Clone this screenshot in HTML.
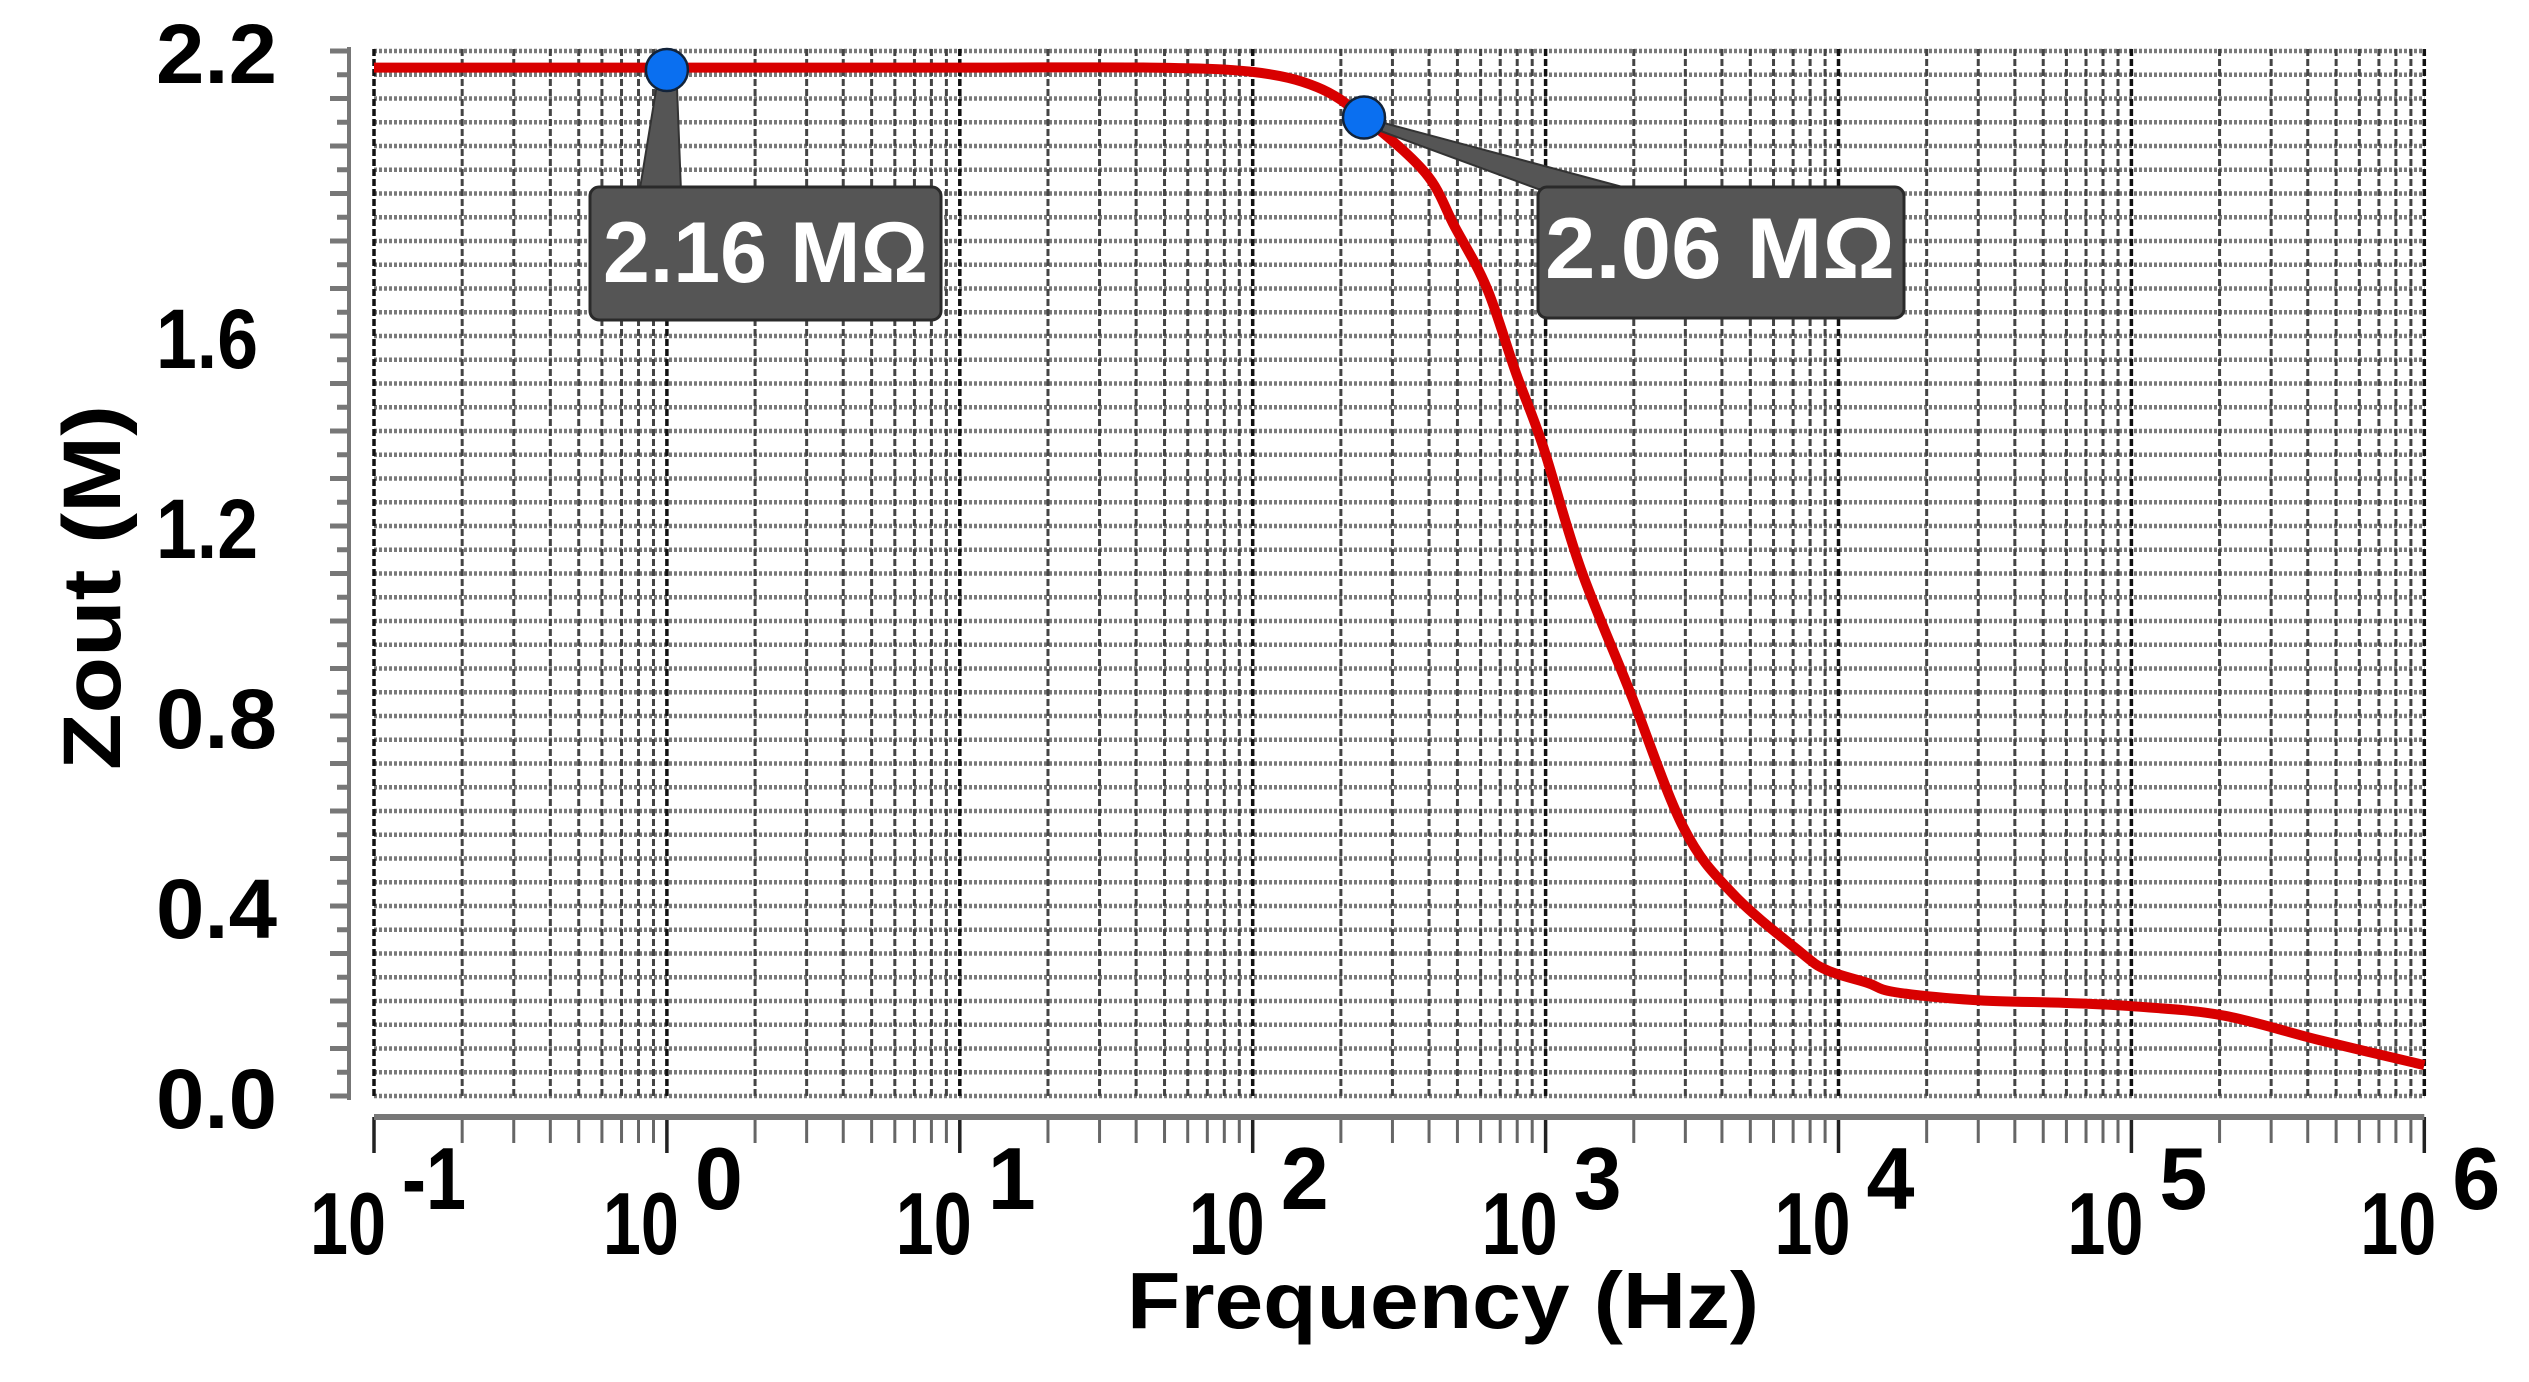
<!DOCTYPE html>
<html><head><meta charset="utf-8"><style>
html,body{margin:0;padding:0;background:#fff}
svg{display:block}
text{font-family:"Liberation Sans",sans-serif;font-weight:bold}
</style></head><body>
<svg id="chart" width="2529" height="1382" viewBox="0 0 2529 1382" xmlns="http://www.w3.org/2000/svg">
<g id="grid"></g>
<g id="axes"></g>
<g id="series"></g>
<g id="ann"></g>
<text x="1127" y="1328" font-size="80" textLength="632" lengthAdjust="spacingAndGlyphs" fill="#000">Frequency (Hz)</text>
<text transform="translate(120,770) rotate(-90)" x="0" y="0" font-size="82" textLength="365" lengthAdjust="spacingAndGlyphs" fill="#000">Zout (M)</text>
</svg>
<script>
const logFreq = [-1, 0, 1, 1.65, 2.0, 2.22, 2.38, 2.59, 2.69, 2.80, 2.90, 2.99, 3.12, 3.29, 3.47, 3.64, 3.87, 3.96, 4.10, 4.19, 4.46, 4.77, 5.0, 5.31, 5.64, 6.0];
const zout = [2.165, 2.165, 2.165, 2.165, 2.156, 2.124, 2.06, 1.943, 1.83, 1.70, 1.52, 1.37, 1.11, 0.848, 0.566, 0.425, 0.303, 0.265, 0.238, 0.219, 0.202, 0.196, 0.189, 0.17, 0.118, 0.065];
const yTicks = [0.0, 0.4, 0.8, 1.2, 1.6, 2.2];
const yTickLabels = ["0.0", "0.4", "0.8", "1.2", "1.6", "2.2"];
const xDecades = [-1, 0, 1, 2, 3, 4, 5, 6];
const xExpLabels = ["-1", "0", "1", "2", "3", "4", "5", "6"];
const markerLogF = [0, 2.38];
const markerZ = [2.16, 2.06];
const markerLabels = ["2.16 MΩ", "2.06 MΩ"];

const NS = "http://www.w3.org/2000/svg";
const X0 = 374, DEC = 292.9, Y0 = 1096, YU = 475;
function xs(l){ return X0 + (l + 1) * DEC; }
function ys(v){ return Y0 - v * YU; }
function mk(tag, attrs, parent){ const e = document.createElementNS(NS, tag); for (const k in attrs) e.setAttribute(k, attrs[k]); parent.appendChild(e); return e; }

const grid = document.getElementById('grid');
const axes = document.getElementById('axes');
const xL = xs(-1), xR = xs(6);
for (let i = 0; i <= 44; i++) {
  const v = i * 0.05, y = ys(v);
  const l = mk('line', {x1: xL, x2: xR, y1: y, y2: y, stroke: '#7a7a7a', 'stroke-width': 4.5, 'stroke-dasharray': '3 2'}, grid);
  
  
  const t = mk('line', {x1: i % 2 === 0 ? 330 : 337, x2: 349, y1: y, y2: y, stroke: '#777', 'stroke-width': 5}, axes);
  
  
}
for (let d = -1; d <= 6; d++) {
  for (let m = 1; m <= 9; m++) {
    if (d === 6 && m > 1) break;
    const x = xs(d + Math.log10(m));
    const major = m === 1;
    const g = mk('line', {x1: x, x2: x, y1: ys(2.2) - 2, y2: Y0, stroke: major ? '#111' : '#444', 'stroke-width': major ? 3.5 : 3, 'stroke-dasharray': '7 3'}, grid);
    
    
    const t = mk('line', {x1: x, x2: x, y1: 1117, y2: major ? 1153 : 1143, stroke: major ? '#222' : '#666', 'stroke-width': major ? 3.5 : 3}, axes);
    
    
  }
}
const ya = mk('line', {x1: 349, x2: 349, y1: 47, y2: 1100, stroke: '#777', 'stroke-width': 4}, axes);


const xa = mk('line', {x1: xL, x2: xR, y1: 1117, y2: 1117, stroke: '#777', 'stroke-width': 6}, axes);



yTicks.forEach((v, i) => {
  const t = mk('text', {x: 156, y: ys(v) + 32, 'font-size': 84, fill: '#000', textLength: yTickLabels[i].startsWith('1') ? 102 : 121, lengthAdjust: 'spacingAndGlyphs'}, axes);
  t.textContent = yTickLabels[i];
  
  
});
xDecades.forEach((d, i) => {
  const x = xs(d);
  const t = mk('text', {x: x - 64, y: 1254, 'font-size': 88, fill: '#000', textLength: 76, lengthAdjust: 'spacingAndGlyphs'}, axes);
  t.textContent = '10';
  
  
  const e = mk('text', {x: x + 28, y: 1209, 'font-size': 88, fill: '#000', textLength: xExpLabels[i].length > 1 ? 64 : 48, lengthAdjust: 'spacingAndGlyphs'}, axes);
  e.textContent = xExpLabels[i];
  
  
});

const series = document.getElementById('series');
const P = logFreq.map((l, i) => [xs(l), ys(zout[i])]);
let d = 'M' + P[0][0].toFixed(1) + ',' + P[0][1].toFixed(1);
for (let i = 0; i < P.length - 1; i++) {
  const p0 = P[Math.max(0, i - 1)], p1 = P[i], p2 = P[i + 1], p3 = P[Math.min(P.length - 1, i + 2)];
  const c1x = p1[0] + (p2[0] - p0[0]) / 6, c1y = p1[1] + (p2[1] - p0[1]) / 6;
  const c2x = p2[0] - (p3[0] - p1[0]) / 6, c2y = p2[1] - (p3[1] - p1[1]) / 6;
  d += ` C${c1x.toFixed(1)},${c1y.toFixed(1)} ${c2x.toFixed(1)},${c2y.toFixed(1)} ${p2[0].toFixed(1)},${p2[1].toFixed(1)}`;
}
const line = mk('path', {d: d, fill: 'none', stroke: '#d80000', 'stroke-width': 10, 'stroke-linejoin': 'round'}, series);



const ann = document.getElementById('ann');
const boxes = [[590, 187, 351, 133, 603, 282, 325], [1538, 187, 366, 131, 1545, 278, 350]];
markerLogF.forEach((l, i) => {
  const mx = xs(l), my = ys(markerZ[i]);
  const b = boxes[i];
  let poly;
  if (i === 0) poly = `${mx-10},${my+15} ${mx+10},${my+15} ${mx+14},${b[1]+2} ${mx-27},${b[1]+2}`;
  else poly = `${mx+18},${my+5} ${b[0]+92},${b[1]+2} ${b[0]},${b[1]+2} ${mx+18},${my+14}`;
  const s = mk('polygon', {points: poly, fill: '#555', stroke: '#333', 'stroke-width': 2}, ann);
  
  
  const r = mk('rect', {x: b[0], y: b[1], width: b[2], height: b[3], rx: 9, fill: '#555', stroke: '#2a2a2a', 'stroke-width': 3}, ann);
  
  
  const t = mk('text', {x: b[4], y: b[5], 'font-size': 86, fill: '#fff', textLength: b[6], lengthAdjust: 'spacingAndGlyphs'}, ann);
  t.textContent = markerLabels[i];
  
  
  const c = mk('circle', {cx: mx, cy: my, r: 21, fill: '#0a6ff0', stroke: '#12233a', 'stroke-width': 2.5}, ann);
  
  
});
</script>
</body></html>
